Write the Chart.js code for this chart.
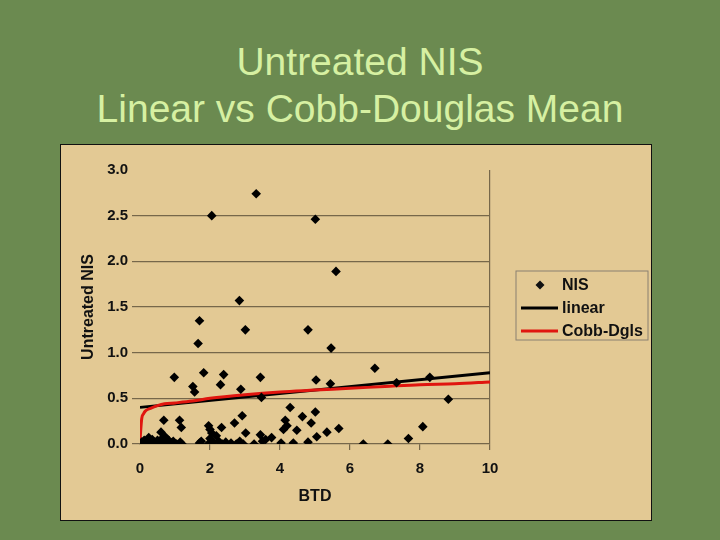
<!DOCTYPE html>
<html>
<head>
<meta charset="utf-8">
<script src="https://cdn.jsdelivr.net/npm/chart.js@4.4.0/dist/chart.umd.min.js"></script>
<style>
  body { margin: 0; width: 720px; height: 540px; background: #6b8a50; position: relative; overflow: hidden; }
  #title { position: absolute; left: 0; top: 38px; width: 720px; text-align: center;
           font-family: "Liberation Sans", Arial, sans-serif; font-size: 39px; line-height: 47px; color: #d6f0a2; }
  #box { position: absolute; left: 60px; top: 144px; width: 590px; height: 375px;
         border: 1px solid #111; background: #e3c994; }
</style>
</head>
<body>
<div id="title">Untreated NIS<br>Linear vs Cobb-Douglas Mean</div>
<div id="box"><canvas id="chart"></canvas></div>
<script>
// valores
const btd = [0.02, 0.05, 0.08, 0.12, 0.15, 0.2, 0.25, 0.28, 0.32, 0.35, 0.4, 0.45, 0.5, 0.55, 0.6, 0.63, 0.68, 0.72, 0.78, 0.82, 0.9, 0.95, 1.05, 1.15, 1.2,
  1.7, 1.75, 1.95, 2.0, 2.05, 2.1, 2.18, 2.25, 2.35, 2.45, 2.6, 2.75, 2.85, 2.95, 3.02, 3.26, 3.44, 3.5, 3.59, 3.76, 4.03, 4.38, 4.8, 5.05, 6.38, 7.08, 7.67,
  0.68, 1.13, 1.18, 1.96, 2.0, 2.33, 2.7, 2.92, 4.15, 4.2, 4.1, 4.29, 4.48, 4.64, 4.89, 5.01, 5.34, 5.68, 8.08,
  0.98, 1.51, 1.56, 1.66, 1.70, 1.82, 2.05, 2.30, 2.39, 2.84, 2.88, 3.01, 3.32, 3.44, 3.47, 4.80, 5.01, 5.03, 5.44, 5.46, 5.60, 6.71, 7.33, 8.28, 8.81];
const nis = [0.0, 0.02, 0.0, 0.04, 0.01, 0.03, 0.07, 0.02, 0.0, 0.05, 0.02, 0.0, 0.04, 0.01, 0.13, 0.06, 0.02, 0.08, 0.0, 0.04, 0.01, 0.03, 0.0, 0.02, 0.0,
  0.01, 0.03, 0.0, 0.06, 0.12, 0.02, 0.09, 0.03, 0.0, 0.02, 0.01, 0.0, 0.03, 0.0, 0.12, 0.0, 0.1, 0.03, 0.05, 0.07, 0.01, 0.01, 0.02, 0.08, 0.0, 0.0, 0.06,
  0.26, 0.26, 0.18, 0.2, 0.16, 0.18, 0.23, 0.31, 0.26, 0.2, 0.16, 0.40, 0.15, 0.30, 0.23, 0.35, 0.13, 0.17, 0.19,
  0.73, 0.63, 0.57, 1.10, 1.35, 0.78, 2.50, 0.65, 0.76, 1.57, 0.60, 1.25, 2.74, 0.73, 0.51, 1.25, 2.46, 0.70, 0.66, 1.05, 1.89, 0.83, 0.67, 0.73, 0.49];

const linX = [0, 10];
const linY = [0.40, 0.78];

const cobbX = [0, 0.02, 0.05, 0.1, 0.15, 0.3, 0.5, 0.7, 1, 1.5, 2, 3, 4, 5, 6, 7, 8, 9, 10];
const cobbY = [0.02, 0.15, 0.28, 0.33, 0.36, 0.39, 0.42, 0.44, 0.45, 0.47, 0.50, 0.54, 0.57, 0.59, 0.61, 0.63, 0.65, 0.66, 0.68];

const xTicks = [0, 2, 4, 6, 8, 10];
const yTicks = [0.0, 0.5, 1.0, 1.5, 2.0, 2.5, 3.0];

const grid = '#76674a';
const tickFont = { family: '"Liberation Sans", Arial, sans-serif', size: 15, weight: 'bold' };
const titleFont = { family: '"Liberation Sans", Arial, sans-serif', size: 16, weight: 'bold' };

// leyenda dibujada a mano con recuadro
const legendBox = {
    id: 'legendBox',
    afterDraw(chart) {
        const c = chart.ctx;
        const L = 455, T = 126, W = 132, H = 69;
        c.save();
        c.strokeStyle = '#8a8070';
        c.lineWidth = 1;
        c.strokeRect(L, T, W, H);
        c.font = 'bold 16px "Liberation Sans", Arial, sans-serif';
        c.fillStyle = '#111';
        c.textBaseline = 'middle';
        const ds = chart.data.datasets;
        ds.forEach((d, i) => {
            const y = T + 14 + i * 23;
            if (i === 0) {
                c.beginPath();
                c.moveTo(L + 24, y - 4.5); c.lineTo(L + 28.5, y); c.lineTo(L + 24, y + 4.5); c.lineTo(L + 19.5, y);
                c.closePath();
                c.fill();
            } else {
                c.strokeStyle = d.borderColor;
                c.lineWidth = d.borderWidth;
                c.beginPath();
                c.moveTo(L + 5, y); c.lineTo(L + 42, y);
                c.stroke();
            }
            c.fillStyle = '#111';
            c.fillText(d.label, L + 46, y + 1);
        });
        c.restore();
    }
};

document.addEventListener("DOMContentLoaded", () => {
    const ctx = document.getElementById('chart').getContext('2d');
    new Chart(ctx, {
        type: 'scatter',
        data: {
            datasets: [{
                label: 'NIS',
                data: btd.map((x, i) => ({ x: x, y: nis[i] })),
                pointStyle: 'rectRot',
                pointRadius: 4.8,
                backgroundColor: '#000',
                borderColor: '#000',
                borderWidth: 0,
                order: 0
            }, {
                label: 'linear',
                data: linX.map((x, i) => ({ x: x, y: linY[i] })),
                showLine: true,
                borderColor: '#000',
                borderWidth: 2.8,
                pointRadius: 0,
                order: 2
            }, {
                label: 'Cobb-Dgls',
                data: cobbX.map((x, i) => ({ x: x, y: cobbY[i] })),
                showLine: true,
                borderColor: '#e0150f',
                borderWidth: 3,
                pointRadius: 0,
                cubicInterpolationMode: 'monotone',
                order: 1
            }]
        },
        options: {
            responsive: true,
            maintainAspectRatio: false,
            animation: false,
            layout: { padding: { top: 25, right: 161, left: 18, bottom: 10 } },
            plugins: { legend: { display: false }, tooltip: { enabled: false } },
            scales: {
                x: {
                    type: 'linear',
                    min: 0, max: 10,
                    afterBuildTicks: s => { s.ticks = xTicks.map(v => ({ value: v })); },
                    afterFit: s => { s.height = 66; },
                    ticks: { color: '#111', font: tickFont, padding: 10 },
                    grid: {
                        color: c => (c.tick && c.tick.value === 10 ? grid : 'rgba(0,0,0,0)'),
                        tickColor: c => (c.tick && c.tick.value === 0 ? 'rgba(0,0,0,0)' : grid),
                        tickLength: 6,
                        lineWidth: 1.2
                    },
                    border: { display: true, color: grid, width: 1.2 },
                    title: { display: true, text: 'BTD', color: '#111', font: titleFont, padding: { top: 10 } }
                },
                y: {
                    min: 0, max: 3,
                    afterBuildTicks: s => { s.ticks = yTicks.map(v => ({ value: v })); },
                    afterFit: s => { s.width = 61; },
                    ticks: { color: '#111', font: tickFont, padding: 4, callback: v => v.toFixed(1) },
                    grid: {
                        color: c => (c.tick && (c.tick.value === 3 || c.tick.value === 0) ? 'rgba(0,0,0,0)' : grid),
                        tickColor: c => (c.tick && c.tick.value === 3 ? 'rgba(0,0,0,0)' : grid),
                        tickLength: 8,
                        lineWidth: 1.2
                    },
                    border: { display: false },
                    title: { display: true, text: 'Untreated NIS', color: '#111', font: titleFont, padding: { top: 0, bottom: 0 } }
                }
            }
        },
        plugins: [legendBox]
    });
});
</script>
</body>
</html>
